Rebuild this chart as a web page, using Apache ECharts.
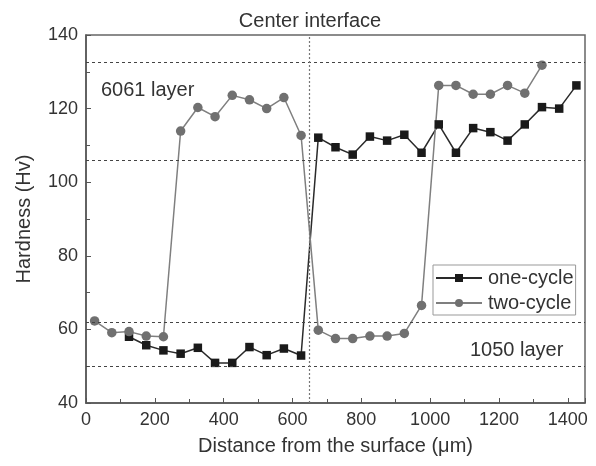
<!DOCTYPE html>
<html><head><meta charset="utf-8">
<script src="https://cdn.jsdelivr.net/npm/echarts@6/dist/echarts.min.js"></script>
<style>html,body{margin:0;padding:0;background:#fff}#c{width:596px;height:466px}</style>
</head><body><div id="c"></div>
<script>
const oneCycleX = [125,175,225,275,325,375,425,475,525,575,625,675,725,775,825,875,925,975,1025,1075,1125,1175,1225,1275,1325,1375,1425];
const oneCycleY = [58.0,55.7,54.3,53.4,55.0,50.9,50.9,55.2,53.0,54.8,52.9,112.1,109.5,107.5,112.4,111.3,112.9,108.0,115.7,108.0,114.7,113.6,111.3,115.7,120.4,120.0,126.3];
const twoCycleX = [25,75,125,175,225,275,325,375,425,475,525,575,625,675,725,775,825,875,925,975,1025,1075,1125,1175,1225,1275,1325];
const twoCycleY = [62.3,59.1,59.4,58.2,58.0,113.9,120.3,117.8,123.6,122.4,120.0,123.0,112.7,59.8,57.5,57.5,58.2,58.2,58.9,66.5,126.3,126.3,123.9,123.9,126.3,124.2,131.8];
const hLines = [132.5,106,62,50];
const centerX = 650;
const xTicks = [0,200,400,600,800,1000,1200,1400];
const yTicks = [40,60,80,100,120,140];

const font = 'Liberation Sans, Arial, sans-serif';
const chart = echarts.init(document.getElementById('c'));
const zip = (xs, ys) => xs.map((x, i) => [x, ys[i]]);
chart.setOption({
  animation: false,
  grid: {left: 86, right: 11, top: 35, bottom: 63, show: true, borderColor: '#666', borderWidth: 1.5},
  xAxis: {
    type: 'value', min: 0, max: 1450, interval: 200,
    name: 'Distance from the surface (\u03bcm)', nameLocation: 'middle', nameGap: 33,
    nameTextStyle: {fontFamily: font, fontSize: 20, color: '#333'},
    axisLine: {lineStyle: {color: '#555', width: 1.5}},
    axisTick: {inside: true, length: 5, lineStyle: {color: '#555'}},
    minorTick: {show: true, splitNumber: 2, length: 4, lineStyle: {color: '#555'}},
    splitLine: {show: false},
    axisLabel: {fontFamily: font, fontSize: 18, color: '#333', margin: 8,
      formatter: v => xTicks.includes(v) ? String(v) : ''}
  },
  yAxis: {
    type: 'value', min: 40, max: 140, interval: 20,
    name: 'Hardness (Hv)', nameLocation: 'middle', nameGap: 52,
    nameTextStyle: {fontFamily: font, fontSize: 20, color: '#333'},
    axisLine: {show: true, lineStyle: {color: '#555', width: 1.5}},
    axisTick: {show: true, inside: true, length: 5, lineStyle: {color: '#555'}},
    minorTick: {show: true, splitNumber: 2, length: 4, lineStyle: {color: '#555'}},
    splitLine: {show: false},
    axisLabel: {fontFamily: font, fontSize: 18, color: '#333', margin: 8,
      formatter: v => yTicks.includes(v) ? String(v) : ''}
  },
  legend: {
    orient: 'vertical', left: 433, top: 265,
    itemWidth: 46, itemHeight: 10, itemGap: 5,
    padding: [3, 2, 2, 2],
    borderColor: '#999', borderWidth: 1,
    textStyle: {fontFamily: font, fontSize: 20, color: '#333', padding: [0, 0, 0, 1]},
    data: ['one-cycle', 'two-cycle']
  },
  series: [
    {
      name: 'ref', type: 'line', data: [], silent: true,
      markLine: {
        silent: true, symbol: 'none', label: {show: false},
        lineStyle: {color: '#444', type: [3, 3], width: 1},
        data: hLines.map(v => ({yAxis: v})).concat([{xAxis: centerX, lineStyle: {type: [2, 2], color: '#777', width: 1.2}}])
      }
    },
    {
      name: 'one-cycle', type: 'line', data: zip(oneCycleX, oneCycleY),
      symbol: 'rect', symbolSize: 8.5,
      lineStyle: {color: '#2a2a2a', width: 1.5},
      itemStyle: {color: '#1a1a1a'}
    },
    {
      name: 'two-cycle', type: 'line', data: zip(twoCycleX, twoCycleY),
      symbol: 'circle', symbolSize: 9.5,
      lineStyle: {color: '#7f7f7f', width: 1.5},
      itemStyle: {color: '#707070'}
    }
  ],
  graphic: [
    {type: 'text', x: 310, y: 21, style: {text: 'Center interface', fontFamily: font, fontSize: 20, fill: '#333', align: 'center', verticalAlign: 'middle'}},
    {type: 'text', x: 101, y: 90, style: {text: '6061 layer', fontFamily: font, fontSize: 20, fill: '#333', align: 'left', verticalAlign: 'middle'}},
    {type: 'text', x: 470, y: 350, style: {text: '1050 layer', fontFamily: font, fontSize: 20, fill: '#333', align: 'left', verticalAlign: 'middle'}}
  ]
});
</script></body></html>
